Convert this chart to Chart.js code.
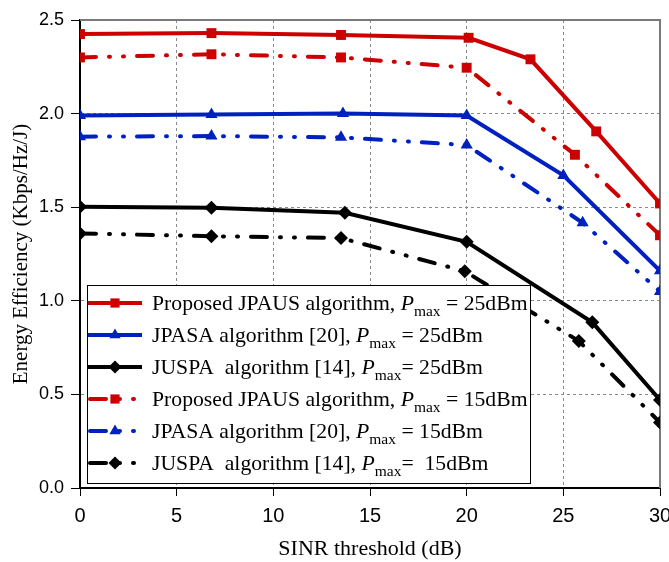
<!DOCTYPE html>
<html>
<head>
<meta charset="utf-8">
<script src="https://cdn.jsdelivr.net/npm/chart.js@4.4.1/dist/chart.umd.min.js"></script>
<style>
  html, body { margin: 0; padding: 0; background: #fff; }
  #wrap { width: 669px; height: 562px; }
</style>
</head>
<body>
<div id="wrap"><canvas id="chart" width="669" height="562"></canvas></div>
<script>
// SINR threshold (dB) for each curve
var xRedSolid   = [0, 6.8, 13.5, 20.1, 23.3, 26.7, 30];
var xBlueSolid  = [0, 6.8, 13.6, 20, 25, 30];
var xBlackSolid = [0, 6.8, 13.7, 20, 26.5, 30];
var xRedDash    = [0, 6.8, 13.5, 20, 25.6, 30];
var xBlueDash   = [0, 6.8, 13.5, 20, 26, 30];
var xBlackDash  = [0, 6.8, 13.5, 19.9, 25.8, 30];

// Energy efficiency (Kbps/Hz/J)
var yRedSolid   = [2.425, 2.43, 2.42, 2.405, 2.29, 1.905, 1.52];
var yBlueSolid  = [1.99, 1.995, 2.0, 1.99, 1.67, 1.16];
var yBlackSolid = [1.503, 1.497, 1.47, 1.315, 0.885, 0.47];
var yRedDash    = [2.30, 2.317, 2.30, 2.245, 1.78, 1.35];
var yBlueDash   = [1.877, 1.88, 1.873, 1.832, 1.417, 1.05];
var yBlackDash  = [1.36, 1.345, 1.335, 1.158, 0.785, 0.35];

var xTicks = [0, 5, 10, 15, 20, 25, 30];
var yTicks = [0, 0.5, 1.0, 1.5, 2.0, 2.5];

var legendPrefix = [
  'Proposed JPAUS algorithm, ',
  'JPASA algorithm [20], ',
  'JUSPA  algorithm [14], ',
  'Proposed JPAUS algorithm, ',
  'JPASA algorithm [20], ',
  'JUSPA  algorithm [14], '
];
var legendSuffix = [' = 25dBm', ' = 25dBm', '= 25dBm', ' = 15dBm', ' = 15dBm', '=  15dBm'];

var RED = '#cc0000', BLUE = '#0020c0', BLACK = '#000000';
var dashDotDot = [16, 13, 1, 13, 1, 13];

function pts(xs, ys) {
  return xs.map(function (x, i) { return { x: x, y: ys[i] }; });
}

function series(label, xs, ys, color, style, dashed) {
  return {
    label: label,
    data: pts(xs, ys),
    borderColor: color,
    backgroundColor: color,
    borderWidth: 4,
    borderDash: dashed ? dashDotDot : [],
    borderCapStyle: dashed ? 'round' : 'butt',
    pointStyle: style,
    pointRadius: 7,
    pointBorderWidth: 0,
    tension: 0
  };
}

var datasets = [
  series(legendPrefix[0] + 'Pmax' + legendSuffix[0], xRedSolid, yRedSolid, RED, 'rect', false),
  series(legendPrefix[1] + 'Pmax' + legendSuffix[1], xBlueSolid, yBlueSolid, BLUE, 'triangle', false),
  series(legendPrefix[2] + 'Pmax' + legendSuffix[2], xBlackSolid, yBlackSolid, BLACK, 'rectRot', false),
  series(legendPrefix[3] + 'Pmax' + legendSuffix[3], xRedDash, yRedDash, RED, 'rect', true),
  series(legendPrefix[4] + 'Pmax' + legendSuffix[4], xBlueDash, yBlueDash, BLUE, 'triangle', true),
  series(legendPrefix[5] + 'Pmax' + legendSuffix[5], xBlackDash, yBlackDash, BLACK, 'rectRot', true)
];

function marker(ctx, style, x, y, r) {
  ctx.beginPath();
  if (style === 'rect') {
    var s = r * Math.SQRT1_2;
    ctx.rect(x - s, y - s, 2 * s, 2 * s);
  } else if (style === 'triangle') {
    ctx.moveTo(x, y - r);
    ctx.lineTo(x + r * 0.866, y + r * 0.5);
    ctx.lineTo(x - r * 0.866, y + r * 0.5);
  } else {
    ctx.moveTo(x, y - r);
    ctx.lineTo(x + r, y);
    ctx.lineTo(x, y + r);
    ctx.lineTo(x - r, y);
  }
  ctx.closePath();
  ctx.fill();
}

// frame on top and right, like the original figure
var framePlugin = {
  id: 'frame',
  beforeDatasetsDraw: function (chart) {
    var a = chart.chartArea, ctx = chart.ctx;
    ctx.save();
    ctx.strokeStyle = '#7a7a7a';
    ctx.lineWidth = 2;
    ctx.beginPath();
    ctx.moveTo(a.left, a.top);
    ctx.lineTo(a.right, a.top);
    ctx.lineTo(a.right, a.bottom);
    ctx.stroke();
    ctx.restore();
  }
};

// boxed legend with italic P and subscript "max"
var legendPlugin = {
  id: 'boxLegend',
  afterDatasetsDraw: function (chart) {
    var ctx = chart.ctx;
    ctx.save();
    ctx.fillStyle = '#fff';
    ctx.fillRect(87, 285, 443, 198);
    ctx.strokeStyle = '#000';
    ctx.lineWidth = 1;
    ctx.strokeRect(87.5, 285.5, 443, 198);
    chart.data.datasets.forEach(function (ds, i) {
      var y = 303 + i * 32;
      ctx.strokeStyle = ds.borderColor;
      ctx.fillStyle = ds.borderColor;
      ctx.lineWidth = 4;
      ctx.lineCap = ds.borderCapStyle;
      ctx.setLineDash(ds.borderDash);
      ctx.beginPath();
      ctx.moveTo(ds.borderDash.length ? 90 : 88, y);
      ctx.lineTo(ds.borderDash.length ? 140 : 142, y);
      ctx.stroke();
      ctx.setLineDash([]);
      marker(ctx, ds.pointStyle, 115, y, 6.5);

      var tx = 152, base = y + 7;
      ctx.fillStyle = '#000';
      ctx.textBaseline = 'alphabetic';
      ctx.font = '21.7px "Liberation Serif"';
      ctx.fillText(legendPrefix[i], tx, base);
      tx += ctx.measureText(legendPrefix[i]).width;
      ctx.font = 'italic 21.7px "Liberation Serif"';
      ctx.fillText('P', tx, base);
      tx += ctx.measureText('P').width;
      ctx.font = '15.5px "Liberation Serif"';
      ctx.fillText('max', tx, base + 6);
      tx += ctx.measureText('max').width;
      ctx.font = '21.7px "Liberation Serif"';
      ctx.fillText(legendSuffix[i], tx, base);
    });
    ctx.restore();
  }
};

function edgeColor(edges) {
  return function (c) {
    var v = c.tick ? c.tick.value : null;
    return edges.indexOf(v) >= 0 ? 'rgba(0,0,0,0)' : '#8a8a8a';
  };
}

new Chart(document.getElementById('chart'), {
  type: 'line',
  data: { datasets: datasets },
  plugins: [framePlugin, legendPlugin],
  options: {
    responsive: false,
    animation: false,
    layout: { padding: { top: 20, right: 9, left: 0, bottom: 0 } },
    plugins: { legend: { display: false }, tooltip: { enabled: false } },
    scales: {
      x: {
        type: 'linear',
        min: 0, max: 30,
        afterBuildTicks: function (s) { s.ticks = xTicks.map(function (v) { return { value: v }; }); },
        afterFit: function (s) { s.height = 74; s.paddingLeft = 0; s.paddingRight = 0; },
        grid: { color: edgeColor([0, 30]), lineWidth: 1, tickColor: '#000', tickLength: 8, drawTicks: true },
        border: { display: true, color: '#000', width: 2, dash: [3, 3] },
        ticks: {
          color: '#000', padding: 8,
          font: { family: '"Liberation Sans"', size: 20 },
          callback: function (v) { return String(v); }
        },
        title: {
          display: true, text: 'SINR threshold (dB)', color: '#000',
          font: { family: '"Liberation Serif"', size: 22 },
          padding: { top: 0, bottom: 0 }
        }
      },
      y: {
        type: 'linear',
        min: 0, max: 2.5,
        afterBuildTicks: function (s) { s.ticks = yTicks.map(function (v) { return { value: v }; }); },
        afterFit: function (s) { s.width = 80; s.paddingTop = 0; s.paddingBottom = 0; },
        grid: { color: edgeColor([0, 2.5]), lineWidth: 1, tickColor: '#000', tickLength: 9, drawTicks: true },
        border: { display: true, color: '#000', width: 2, dash: [3, 3] },
        ticks: {
          color: '#000', padding: 7,
          font: { family: '"Liberation Sans"', size: 18 },
          callback: function (v) { return Number(v).toFixed(1); }
        },
        title: {
          display: true, text: 'Energy Efficiency (Kbps/Hz/J)', color: '#000',
          font: { family: '"Liberation Serif"', size: 21 },
          padding: { top: 9, bottom: 0 }
        }
      }
    }
  }
});
</script>
</body>
</html>
